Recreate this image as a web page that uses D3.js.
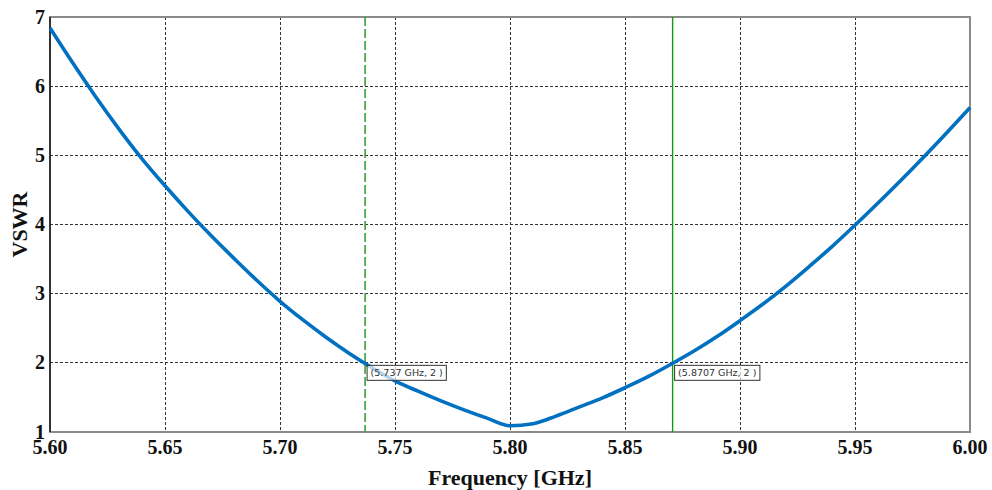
<!DOCTYPE html>
<html>
<head>
<meta charset="utf-8">
<script src="https://cdn.jsdelivr.net/npm/d3@7"></script>
<style>
  body { margin: 0; background: #fff; }
  svg { display: block; }
</style>
</head>
<body>
<script>
// sweep frequencies (GHz) and VSWR
const freq = [5.60, 5.61, 5.62, 5.63, 5.64, 5.65, 5.66, 5.67, 5.68, 5.69,
              5.70, 5.71, 5.72, 5.73, 5.74, 5.75, 5.76, 5.77, 5.78, 5.79,
              5.80, 5.81, 5.82, 5.83, 5.84, 5.85, 5.86, 5.87, 5.88, 5.89,
              5.90, 5.91, 5.92, 5.93, 5.94, 5.95, 5.96, 5.97, 5.98, 5.99, 6.00];
const vswr = [6.84, 6.33, 5.84, 5.38, 4.95, 4.56, 4.19, 3.84, 3.51, 3.19,
              2.89, 2.62, 2.37, 2.14, 1.93, 1.74, 1.59, 1.45, 1.32, 1.20,
              1.09, 1.12, 1.23, 1.36, 1.49, 1.64, 1.80, 1.98, 2.17, 2.38,
              2.61, 2.85, 3.11, 3.39, 3.68, 3.99, 4.31, 4.64, 4.98, 5.33, 5.69];

const xTicks = [5.60, 5.65, 5.70, 5.75, 5.80, 5.85, 5.90, 5.95, 6.00];
const yTicks = [1, 2, 3, 4, 5, 6, 7];

// markers at VSWR = 2
const markerFreq = [5.737, 5.8707];
const markerVal = [2, 2];
const markerText = ["(5.737 GHz, 2 )", "(5.8707 GHz, 2 )"];

const width = 992, height = 490;
const margin = {top: 17, right: 22, bottom: 58, left: 50};

const svg = d3.select("body").append("svg")
  .attr("width", width)
  .attr("height", height);

const x = d3.scaleLinear().domain([5.6, 6.0]).range([margin.left, width - margin.right]);
const y = d3.scaleLinear().domain([1, 7]).range([height - margin.bottom, margin.top]);

// grid
svg.append("g")
  .selectAll("line")
  .data(xTicks.slice(1, -1))
  .enter().append("line")
  .attr("x1", d => x(d)).attr("x2", d => x(d))
  .attr("y1", y(7)).attr("y2", y(1))
  .attr("stroke", "#333")
  .attr("stroke-width", 1)
  .attr("stroke-dasharray", "3,2")
  .attr("shape-rendering", "crispEdges");

svg.append("g")
  .selectAll("line")
  .data(yTicks.slice(1, -1))
  .enter().append("line")
  .attr("x1", x(5.6)).attr("x2", x(6.0))
  .attr("y1", d => y(d)).attr("y2", d => y(d))
  .attr("stroke", "#333")
  .attr("stroke-width", 1)
  .attr("stroke-dasharray", "3,2")
  .attr("shape-rendering", "crispEdges");

// frame
svg.append("rect")
  .attr("x", x(5.6)).attr("y", y(7))
  .attr("width", x(6.0) - x(5.6))
  .attr("height", y(1) - y(7))
  .attr("fill", "none")
  .attr("stroke", "#8a8a8a")
  .attr("stroke-width", 1.5)
  .attr("shape-rendering", "crispEdges");

svg.append("line")
  .attr("x1", x(5.6)).attr("x2", x(5.6))
  .attr("y1", y(7)).attr("y2", y(1))
  .attr("stroke", "#333")
  .attr("stroke-width", 1.5)
  .attr("shape-rendering", "crispEdges");

// marker lines
svg.append("line")
  .attr("x1", x(markerFreq[0])).attr("x2", x(markerFreq[0]))
  .attr("y1", y(7)).attr("y2", y(1))
  .attr("stroke", "#3a9e3a")
  .attr("stroke-width", 1.6)
  .attr("stroke-dasharray", "9,3");

svg.append("line")
  .attr("x1", x(markerFreq[1])).attr("x2", x(markerFreq[1]))
  .attr("y1", y(7)).attr("y2", y(1))
  .attr("stroke", "#109a10")
  .attr("stroke-width", 1.4);

// curve
const line = d3.line()
  .x((d, i) => x(freq[i]))
  .y(d => y(d))
  .curve(d3.curveMonotoneX);

svg.append("path")
  .datum(vswr)
  .attr("d", line)
  .attr("fill", "none")
  .attr("stroke", "#0070c0")
  .attr("stroke-width", 3.6)
  .attr("stroke-linejoin", "round");

// marker labels
const lab = svg.append("g")
  .selectAll("g")
  .data(markerFreq)
  .enter().append("g")
  .attr("transform", (d, i) => "translate(" + (x(d) + 1.5) + "," + (y(markerVal[i]) + 2) + ")");

lab.append("text")
  .attr("x", 4)
  .attr("y", 11)
  .attr("font-family", "DejaVu Sans, sans-serif")
  .attr("font-size", "9.5px")
  .attr("fill", "#333")
  .text((d, i) => markerText[i]);

lab.each(function() {
  const g = d3.select(this);
  const bb = g.select("text").node().getBBox();
  g.insert("rect", "text")
    .attr("x", 0.5).attr("y", 0.5)
    .attr("width", bb.width + 7)
    .attr("height", 15)
    .attr("fill", "rgba(255,255,255,0.7)")
    .attr("stroke", "#333")
    .attr("stroke-width", 1);
});

// tick labels
svg.append("g")
  .selectAll("text")
  .data(xTicks)
  .enter().append("text")
  .attr("x", d => x(d))
  .attr("y", y(1) + 22)
  .attr("text-anchor", "middle")
  .attr("font-family", "Liberation Serif, serif")
  .attr("font-weight", "bold")
  .attr("font-size", "20px")
  .attr("fill", "#111")
  .text(d => d3.format(".2f")(d));

svg.append("g")
  .selectAll("text")
  .data(yTicks)
  .enter().append("text")
  .attr("x", margin.left - 5)
  .attr("y", d => y(d))
  .attr("dy", "0.33em")
  .attr("text-anchor", "end")
  .attr("font-family", "Liberation Serif, serif")
  .attr("font-weight", "bold")
  .attr("font-size", "20px")
  .attr("fill", "#111")
  .text(d => d);

// axis titles
svg.append("text")
  .attr("x", (x(5.6) + x(6.0)) / 2)
  .attr("y", 485)
  .attr("text-anchor", "middle")
  .attr("font-family", "Liberation Serif, serif")
  .attr("font-weight", "bold")
  .attr("font-size", "22px")
  .attr("fill", "#111")
  .text("Frequency [GHz]");

svg.append("text")
  .attr("transform", "translate(27," + ((y(1) + y(7)) / 2) + ") rotate(-90)")
  .attr("text-anchor", "middle")
  .attr("font-family", "Liberation Serif, serif")
  .attr("font-weight", "bold")
  .attr("font-size", "22px")
  .attr("fill", "#111")
  .text("VSWR");
</script>
</body>
</html>
